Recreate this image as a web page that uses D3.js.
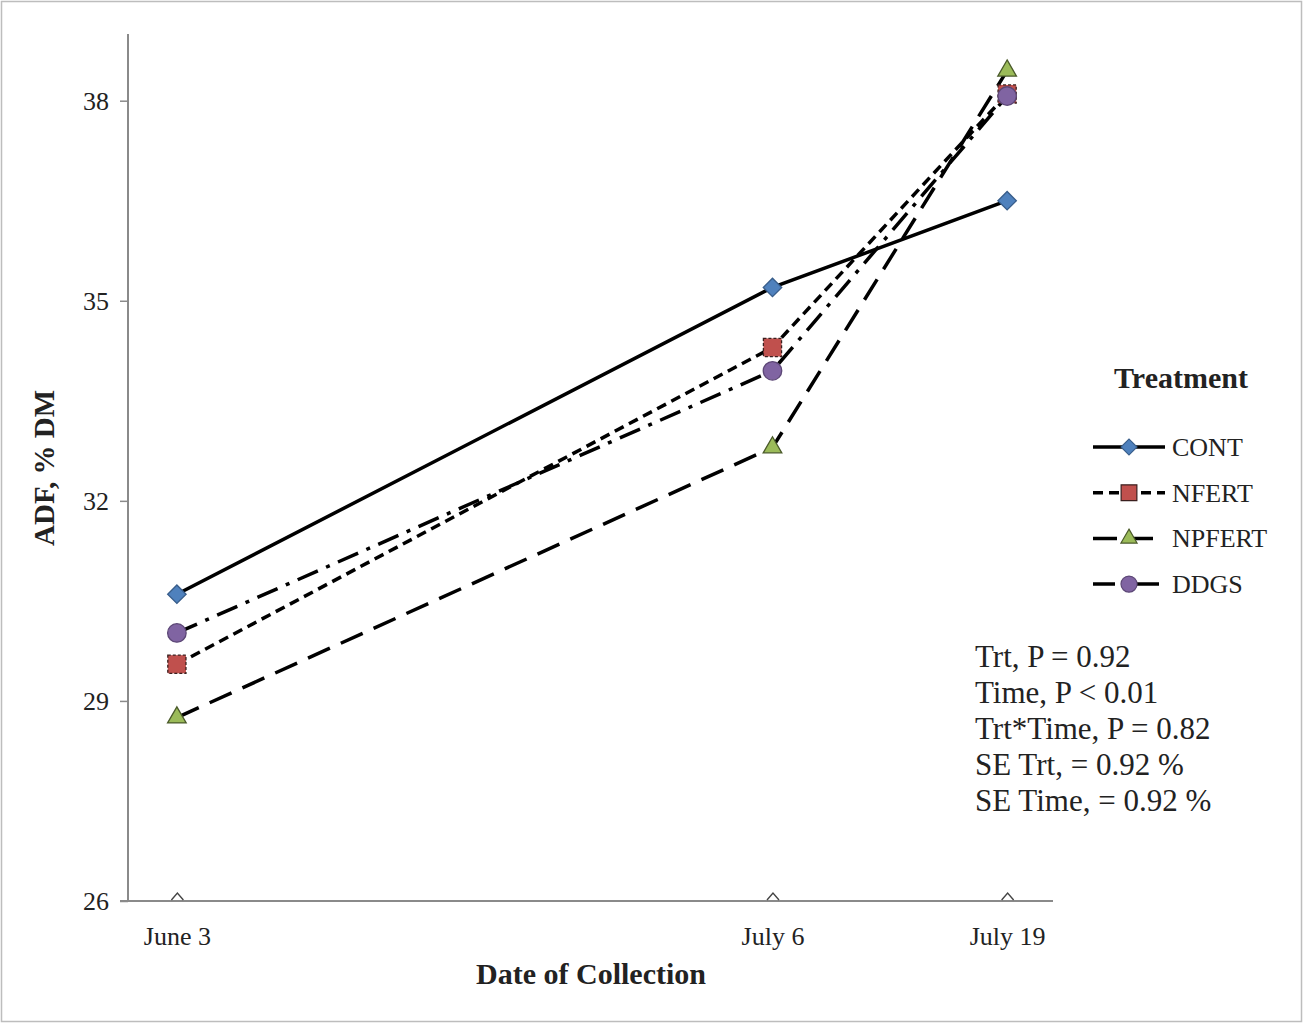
<!DOCTYPE html>
<html><head><meta charset="utf-8">
<script src="https://cdn.jsdelivr.net/npm/d3@7"></script>
<style>body{margin:0;background:#fff}svg{display:block}</style>
</head><body>
<script>
const dates = ["2011-06-03", "2011-07-06", "2011-07-19"];
const dateLabels = ["June 3", "July 6", "July 19"];
const seriesNames = ["CONT", "NFERT", "NPFERT", "DDGS"];
const CONT = [30.6, 35.2, 36.5];
const NFERT = [29.55, 34.3, 38.1];
const NPFERT = [28.75, 32.8, 38.45];
const DDGS = [30.02, 33.95, 38.07];
const yTicks = [26, 29, 32, 35, 38];
const statsLines = ["Trt, P = 0.92", "Time, P < 0.01", "Trt*Time, P = 0.82", "SE Trt, = 0.92 %", "SE Time, = 0.92 %"];

const W = 1303, H = 1024;
const svg = d3.select("body").append("svg").attr("width", W).attr("height", H);
const font = "'Liberation Serif','Times New Roman',serif";

svg.append("rect").attr("x", 1.5).attr("y", 1.5).attr("width", W - 3).attr("height", H - 4)
  .attr("fill", "#fff").attr("stroke", "#bdbdbd").attr("stroke-width", 1.5);

const parse = d3.timeParse("%Y-%m-%d");
const dd = dates.map(parse);
const x = d3.scaleTime()
  .domain([d3.timeHour.offset(dd[0], -65), d3.timeHour.offset(dd[0], 1165)])
  .range([128, 1053]);
const y = d3.scaleLinear().domain([26, 39]).range([901, 34]);

// axes
const gy = svg.append("g").attr("transform", "translate(128,0)")
  .call(d3.axisLeft(y).tickValues(yTicks).tickSize(8).tickPadding(11).tickFormat(d3.format("d")));
gy.select(".domain").attr("stroke", "#8a8a8a").attr("stroke-width", 2).attr("d", "M0,34V901");
gy.selectAll(".tick line").attr("stroke", "#8a8a8a").attr("stroke-width", 1.5);
gy.selectAll("text").attr("font-family", font).attr("font-size", 26).attr("fill", "#222");

const gx = svg.append("g").attr("transform", "translate(0,901)")
  .call(d3.axisBottom(x).tickValues(dd).tickSize(0).tickPadding(26)
    .tickFormat((d, i) => dateLabels[i]));
gx.select(".domain").attr("stroke", "#8a8a8a").attr("stroke-width", 2).attr("d", "M120,0H1053");
gx.selectAll("text").attr("font-family", font).attr("font-size", 26).attr("fill", "#222");
gx.selectAll(".tick").append("path").attr("d", "M-6,-1L0,-8L6,-1")
  .attr("fill", "none").attr("stroke", "#444").attr("stroke-width", 1.4);

// axis titles
svg.append("text").attr("transform", "translate(54,468) rotate(-90)")
  .attr("text-anchor", "middle").attr("font-family", font).attr("font-weight", "bold")
  .attr("font-size", 29).attr("fill", "#222").text("ADF, % DM");
svg.append("text").attr("x", 591).attr("y", 984)
  .attr("text-anchor", "middle").attr("font-family", font).attr("font-weight", "bold")
  .attr("font-size", 30).attr("fill", "#222").text("Date of Collection");

const series = [
  {name: seriesNames[0], vals: CONT, dash: null, fill: "#4F81BD", stroke: "#385D8A", sym: d3.symbolSquare, rot: 45, size: 170},
  {name: seriesNames[1], vals: NFERT, dash: "10,6", fill: "#C0504D", stroke: "#3a1f1e", sym: d3.symbolSquare, rot: 0, size: 330},
  {name: seriesNames[2], vals: NPFERT, dash: "24,12", fill: "#9BBB59", stroke: "#4a5a2a", sym: d3.symbolTriangle, rot: 0, size: 150},
  {name: seriesNames[3], vals: DDGS, dash: "22,9,4,9", fill: "#8064A2", stroke: "#5c4776", sym: d3.symbolCircle, rot: 0, size: 270}
];

const line = d3.line().x((d, i) => x(dd[i])).y(d => y(d));
series.forEach(s => {
  svg.append("path").datum(s.vals).attr("d", line).attr("fill", "none")
    .attr("stroke", "#000").attr("stroke-width", 3.5)
    .attr("stroke-dasharray", s.dash);
});
const markerOrder = [0, 1, 3, 2];
markerOrder.forEach(k => {
  const s = series[k];
  svg.append("g").selectAll("path").data(s.vals).join("path")
    .attr("transform", (d, i) => `translate(${x(dd[i])},${y(d)}) rotate(${s.rot})`)
    .attr("d", d3.symbol().type(s.sym).size(s.size))
    .attr("fill", s.fill).attr("stroke", s.stroke).attr("stroke-width", 1.3)
    .attr("stroke-dasharray", k === 1 ? "3,2" : null);
});

// legend
svg.append("text").attr("x", 1181).attr("y", 388).attr("text-anchor", "middle")
  .attr("font-family", font).attr("font-weight", "bold").attr("font-size", 30)
  .attr("fill", "#222").text("Treatment");
series.forEach((s, i) => {
  const ly = 447 + i * 45.7;
  svg.append("line").attr("x1", 1093).attr("x2", 1165).attr("y1", ly).attr("y2", ly)
    .attr("stroke", "#000").attr("stroke-width", 3.5).attr("stroke-dasharray", s.dash);
  svg.append("path").attr("transform", `translate(1129,${ly}) rotate(${s.rot})`)
    .attr("d", d3.symbol().type(s.sym).size(s.size * 0.75))
    .attr("fill", s.fill).attr("stroke", s.stroke).attr("stroke-width", 1.2);
  svg.append("text").attr("x", 1172).attr("y", ly + 9).attr("font-family", font)
    .attr("font-size", 26).attr("fill", "#222").text(s.name);
});

// stats text
statsLines.forEach((t, i) => {
  svg.append("text").attr("x", 975).attr("y", 667 + i * 36).attr("font-family", font)
    .attr("font-size", 31).attr("fill", "#222").text(t);
});
</script>
</body></html>
